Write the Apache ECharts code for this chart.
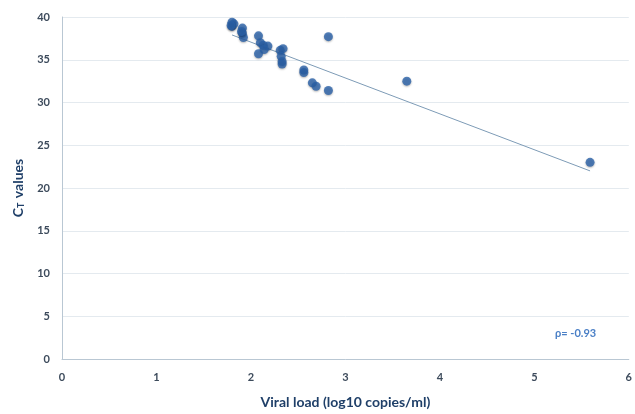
<!DOCTYPE html>
<html>
<head>
<meta charset="utf-8">
<script src="https://cdn.jsdelivr.net/npm/echarts@6/dist/echarts.min.js"></script>
<style>html,body{margin:0;padding:0;background:#fff;}#c{width:635px;height:414px;}</style>
</head>
<body>
<div id="c"></div>
<script>
// Viral load (log10 copies/ml)
var viralLoad = [1.80, 1.80, 1.82, 1.79, 1.91, 1.91, 1.92, 1.90, 2.08, 2.10, 2.13, 2.18, 2.14, 2.08, 2.31, 2.34, 2.32, 2.33, 2.33, 2.56, 2.56, 2.65, 2.69, 2.82, 2.82, 3.65, 5.59];
// CT values
var ctValues = [39.4, 38.9, 39.2, 39.0, 38.7, 38.1, 37.6, 38.3, 37.8, 37.0, 36.7, 36.6, 36.2, 35.7, 36.1, 36.3, 35.4, 34.8, 34.5, 33.8, 33.5, 32.3, 31.9, 31.4, 37.7, 32.5, 23.0];
// linear trend line endpoints (x, y)
var trendX = [1.80, 5.59];
var trendY = [37.9, 22.0];
var xTicks = [0, 1, 2, 3, 4, 5, 6];
var yTicks = [0, 5, 10, 15, 20, 25, 30, 35, 40];
var rhoLabel = 'ρ= -0.93';

var points = viralLoad.map(function (x, i) { return [x, ctValues[i]]; });
var trend = trendX.map(function (x, i) { return [x, trendY[i]]; });

var chart = echarts.init(document.getElementById('c'));
var labelColor = '#3d4b5c';
chart.setOption({
  animation: false,
  grid: { left: 62, right: 2, top: 17, bottom: 52 },
  xAxis: {
    type: 'value', min: xTicks[0], max: xTicks[xTicks.length - 1], interval: 1,
    name: 'Viral load (log10 copies/ml)', nameLocation: 'middle', nameGap: 36,
    nameTextStyle: { color: '#1f3f68', fontFamily: 'Lato', fontWeight: 'bold', fontSize: 14 },
    axisLine: { show: true, lineStyle: { color: '#b9c7d3', width: 1 } },
    axisTick: { show: false },
    splitLine: { show: false },
    axisLabel: { color: labelColor, fontFamily: 'Lato', fontWeight: 'bold', fontSize: 11, margin: 13 }
  },
  yAxis: {
    type: 'value', min: yTicks[0], max: yTicks[yTicks.length - 1], interval: 5,
    name: '{c|C}{t|T}{c| values}', nameLocation: 'middle', nameGap: 36,
    nameTextStyle: {
      rich: {
        c: { color: '#1f3f68', fontFamily: 'Lato', fontWeight: 'bold', fontSize: 14 },
        t: { color: '#1f3f68', fontFamily: 'Lato', fontWeight: 'bold', fontSize: 9, verticalAlign: 'bottom', padding: [7, 1, 0, 0] }
      }
    },
    axisLine: { show: true, lineStyle: { color: '#b9c7d3', width: 1 } },
    axisTick: { show: false },
    splitLine: { show: true, lineStyle: { color: '#e4eaef', width: 1 } },
    axisLabel: { color: labelColor, fontFamily: 'Lato', fontWeight: 'bold', fontSize: 11, margin: 12 }
  },
  series: [
    {
      type: 'line', data: trend, symbol: 'none', silent: true,
      lineStyle: { color: '#7d9bb6', width: 1 }, z: 2
    },
    {
      type: 'scatter', data: points, symbol: 'circle', symbolSize: 9,
      itemStyle: { color: '#2a62a9', shadowColor: 'rgba(0,0,0,0.35)', shadowBlur: 2, shadowOffsetY: 1 }, z: 3
    }
  ],
  graphic: [
    {
      type: 'text', left: 555, top: 328,
      style: { text: rhoLabel, fill: '#4a7fc6', font: 'bold 11px Lato' }
    }
  ]
});
</script>
</body>
</html>
